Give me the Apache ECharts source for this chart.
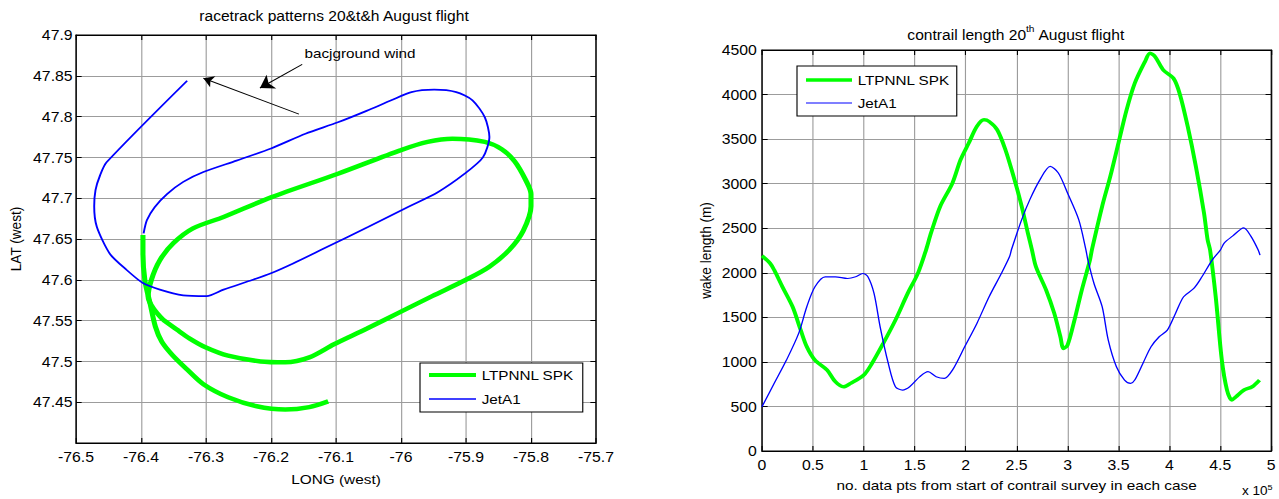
<!DOCTYPE html>
<html>
<head>
<meta charset="utf-8">
<script src="https://cdn.jsdelivr.net/npm/echarts@6/dist/echarts.min.js"></script>
<style>
  html, body { margin: 0; padding: 0; background: #fff; overflow: hidden; }
  #page { width: 1279px; height: 499px; overflow: hidden; }
  /* the figure is laid out on a narrower canvas and stretched horizontally */
  #chart { width: 1132px; height: 499px; transform: scaleX(1.12986); transform-origin: 0 0; }
</style>
</head>
<body>
<div id="page"><div id="chart"></div></div>
<script>
// ---------- racetrack patterns (LONG / LAT) ----------
// LTPNNL SPK: closed racetrack loop
const spkLoopLong = [-76.366, -76.345, -76.325, -76.300, -76.266, -76.216, -76.178, -76.141, -76.103, -76.053,
  -76.000, -75.952, -75.900, -75.864, -75.833, -75.812, -75.800, -75.800, -75.808, -75.825,
  -75.845, -75.871, -75.921, -75.959, -76.000, -76.097, -76.200, -76.273, -76.320, -76.350,
  -76.371, -76.384, -76.389, -76.381, -76.366];
const spkLoopLat = [47.551, 47.539, 47.528, 47.517, 47.507, 47.500, 47.499, 47.505, 47.521, 47.540,
  47.561, 47.580, 47.600, 47.616, 47.637, 47.660, 47.690, 47.705, 47.722, 47.745,
  47.760, 47.769, 47.773, 47.769, 47.759, 47.730, 47.701, 47.677, 47.663, 47.645,
  47.624, 47.600, 47.579, 47.565, 47.551];
// LTPNNL SPK: exit leg heading south-east
const spkTailLong = [-76.397, -76.397, -76.394, -76.386, -76.378, -76.368, -76.352, -76.329, -76.304, -76.266,
  -76.222, -76.178, -76.141, -76.112];
const spkTailLat = [47.655, 47.632, 47.599, 47.571, 47.543, 47.524, 47.508, 47.490, 47.472, 47.456,
  47.445, 47.441, 47.444, 47.451];
// JetA1 track
const jetLong = [-76.329, -76.453, -76.463, -76.470, -76.472, -76.468, -76.448, -76.422, -76.397, -76.371,
  -76.335, -76.299, -76.273, -76.228, -76.200, -76.166, -76.122, -76.050, -75.990, -75.944,
  -75.902, -75.874, -75.864, -75.871, -75.890, -75.915, -75.949, -75.984, -76.015, -76.053,
  -76.097, -76.147, -76.200, -76.253, -76.304, -76.335, -76.360, -76.379, -76.391, -76.396];
const jetLat = [47.844, 47.744, 47.728, 47.710, 47.690, 47.665, 47.632, 47.612, 47.596, 47.588,
  47.581, 47.580, 47.588, 47.600, 47.608, 47.620, 47.637, 47.665, 47.689, 47.707,
  47.730, 47.750, 47.775, 47.799, 47.820, 47.830, 47.833, 47.830, 47.820, 47.807,
  47.793, 47.779, 47.761, 47.746, 47.732, 47.720, 47.705, 47.689, 47.673, 47.657];

// wind annotation, in LONG / LAT
const windText = 'bacjground wind';
const windTextAt = [-76.063, 47.877];
const windArrowFrom = [[-76.157, 47.803], [-76.152, 47.864]];
const windArrowTo = [[-76.304, 47.847], [-76.217, 47.835]];
const windArrowHead = [9, 12];

// ---------- contrail length (data points in units of 1e5, metres) ----------
const spkPts = [0, 0.08, 0.12, 0.20, 0.30, 0.38, 0.44, 0.52, 0.64, 0.72,
  0.80, 0.87, 1.00, 1.08, 1.19, 1.31, 1.43, 1.53, 1.61, 1.66,
  1.75, 1.87, 1.95, 2.03, 2.11, 2.18, 2.23, 2.31, 2.39, 2.47,
  2.55, 2.61, 2.65, 2.69, 2.79, 2.87, 2.93, 2.96, 3.00, 3.06,
  3.14, 3.22, 3.24, 3.34, 3.42, 3.50, 3.58, 3.66, 3.76, 3.81,
  3.86, 3.94, 4.04, 4.10, 4.18, 4.26, 4.34, 4.375, 4.40, 4.455,
  4.515, 4.566, 4.614, 4.654, 4.733, 4.813, 4.885];
const spkLen = [2190, 2105, 2030, 1843, 1619, 1357, 1170, 1020, 908, 778,
  721, 759, 852, 983, 1207, 1469, 1768, 1992, 2254, 2448,
  2746, 3007, 3269, 3455, 3642, 3716, 3698, 3604, 3381, 3082,
  2746, 2448, 2261, 2067, 1806, 1544, 1282, 1151, 1189, 1432,
  1806, 2142, 2261, 2746, 3082, 3455, 3828, 4127, 4369, 4463,
  4425, 4276, 4183, 4015, 3642, 3194, 2672, 2373, 2254, 1731,
  1021, 684, 572, 609, 684, 721, 796];
const jetPts = [0, 0.12, 0.24, 0.36, 0.44, 0.52, 0.62, 0.72, 0.84, 0.92,
  0.99, 1.04, 1.10, 1.16, 1.24, 1.31, 1.38, 1.45, 1.55, 1.63,
  1.71, 1.79, 1.87, 1.99, 2.11, 2.23, 2.35, 2.43, 2.45, 2.55,
  2.63, 2.73, 2.83, 2.91, 3.00, 3.11, 3.18, 3.20, 3.26, 3.34,
  3.40, 3.48, 3.56, 3.62, 3.66, 3.74, 3.82, 3.90, 3.98, 4.06,
  4.14, 4.24, 4.32, 4.42, 4.50, 4.54, 4.62, 4.73, 4.80, 4.87,
  4.89];
const jetLen = [497, 759, 1020, 1320, 1619, 1843, 1955, 1955, 1936, 1955,
  1992, 1955, 1768, 1394, 983, 721, 684, 721, 834, 890,
  834, 815, 908, 1170, 1432, 1731, 1992, 2179, 2261, 2597,
  2821, 3045, 3194, 3120, 2896, 2597, 2261, 2142, 1880, 1619,
  1245, 946, 796, 759, 796, 983, 1170, 1282, 1357, 1544,
  1731, 1824, 1955, 2142, 2254, 2336, 2411, 2504, 2411, 2261,
  2198];

const seriesNames = ['LTPNNL SPK', 'JetA1'];
const seriesColors = ['#00ff00', '#0000ff'];

// ---------- helpers ----------
const SX = 1279 / 1132;          // horizontal stretch applied to #chart
const hx = v => v / SX;          // page x (px) -> chart x (px)
const zip = (a, b) => a.map((v, i) => [v, b[i]]);
const FONT = '"Liberation Sans", Arial, Helvetica, sans-serif';

const axisLineBlack = { show: true, onZero: false, lineStyle: { color: '#000', width: 1 } };
const tickInside = { show: true, inside: true, length: 5, lineStyle: { color: '#000', width: 1 } };
const gridLines = { show: true, lineStyle: { color: '#9c9c9c', width: 1, type: 'solid' } };
const nameFont = { color: '#000', fontSize: 13.6, fontFamily: FONT };
const tickFont = { color: '#000', fontSize: 14, fontFamily: FONT };
const titleSize = 13.8;

function mainAxis(gridIndex, position, range, extra) {
  return Object.assign({
    gridIndex, position, type: 'value',
    min: range[0], max: range[1], interval: range[2],
    axisLine: axisLineBlack, axisTick: tickInside, splitLine: gridLines,
    nameLocation: 'middle', nameTextStyle: nameFont
  }, extra);
}
function mirrorAxis(gridIndex, position, range) {
  return {
    gridIndex, position, type: 'value',
    min: range[0], max: range[1], interval: range[2],
    axisLine: axisLineBlack, axisTick: tickInside,
    axisLabel: { show: false }, splitLine: { show: false }
  };
}

const longRange = [-76.5, -75.7, 0.1];
const latRange = [47.4, 47.9, 0.05];
const ptsRange = [0, 5, 0.5];
const lenRange = [0, 4500, 500];

// legend keys: a plain horizontal bar of the line's thickness
const barIcon = h => 'path://M0 0H100V' + h + 'H0Z';

function legendBox(left, top, padding, itemWidth, itemGap, barHeights) {
  return {
    left: hx(left), top, orient: 'vertical', padding,
    itemWidth: hx(itemWidth), itemHeight: 14, itemGap,
    symbolKeepAspect: true,
    backgroundColor: '#fff', borderColor: '#000', borderWidth: 1, borderRadius: 0,
    selectedMode: false,
    textStyle: { color: '#000', fontSize: 13.5, fontFamily: FONT },
    data: seriesNames.map((n, i) => ({
      name: n, icon: barIcon(barHeights[i]),
      itemStyle: { color: seriesColors[i], borderWidth: 0 }
    }))
  };
}

function lineSeries(name, colorIdx, xi, yi, data, width, smooth) {
  return {
    name, type: 'line', xAxisIndex: xi, yAxisIndex: yi, data,
    symbol: 'none', showSymbol: false, smooth,
    lineStyle: { color: seriesColors[colorIdx], width },
    itemStyle: { color: seriesColors[colorIdx] },
    emphasis: { disabled: true }, silent: true
  };
}

const chart = echarts.init(document.getElementById('chart'), null, { renderer: 'svg' });

const jetTrack = lineSeries(seriesNames[1], 1, 0, 0, zip(jetLong, jetLat), 1.7, 0.25);
jetTrack.markLine = {
  silent: true, animation: false,
  symbol: ['none', 'arrow'],
  lineStyle: { color: '#000', width: 1, type: 'solid' },
  label: { show: false },
  emphasis: { disabled: true },
  data: windArrowFrom.map((p, i) => [
    { coord: p, symbol: 'none' },
    { coord: windArrowTo[i], symbol: 'arrow', symbolSize: windArrowHead[i] }
  ])
};

chart.setOption({
  animation: false,
  backgroundColor: '#fff',
  title: [
    {
      text: 'racetrack patterns 20&t&h August flight',
      left: hx(334), top: 9, textAlign: 'center', padding: 0,
      textStyle: { fontSize: titleSize, fontWeight: 'normal', color: '#000', fontFamily: FONT }
    },
    {
      text: '{n|contrail length 20}{s|th}{n| August flight}',
      left: hx(1016), top: 24, textAlign: 'center', padding: 0,
      textStyle: {
        fontSize: titleSize, fontWeight: 'normal', color: '#000', fontFamily: FONT,
        rich: {
          n: { fontSize: titleSize, color: '#000', fontFamily: FONT, lineHeight: 18, verticalAlign: 'bottom' },
          s: { fontSize: 9, color: '#000', fontFamily: FONT, verticalAlign: 'top' }
        }
      }
    }
  ],
  grid: [
    { left: hx(76), top: 35, width: hx(520), height: 408, show: true, borderColor: '#000', borderWidth: 1, backgroundColor: 'transparent' },
    { left: hx(762), top: 50, width: hx(512), height: 401, show: true, borderColor: '#000', borderWidth: 1, backgroundColor: 'transparent' }
  ],
  xAxis: [
    mainAxis(0, 'bottom', longRange, {
      name: 'LONG (west)', nameGap: 29,
      axisLabel: Object.assign({ margin: 7 }, tickFont)
    }),
    mirrorAxis(0, 'top', longRange),
    mainAxis(1, 'bottom', ptsRange, {
      name: 'no. data pts from start of contrail survey in each case', nameGap: 27,
      axisLabel: Object.assign({ margin: 7 }, tickFont)
    }),
    mirrorAxis(1, 'top', ptsRange)
  ],
  yAxis: [
    mainAxis(0, 'left', latRange, {
      name: 'LAT (west)', nameGap: 46,
      axisLabel: Object.assign({ margin: 3, showMinLabel: false }, tickFont)
    }),
    mirrorAxis(0, 'right', latRange),
    mainAxis(1, 'left', lenRange, {
      name: 'wake length (m)', nameGap: 43,
      axisLabel: Object.assign({ margin: 4.5, formatter: v => String(v) }, tickFont)
    }),
    mirrorAxis(1, 'right', lenRange)
  ],
  legend: [
    legendBox(420, 363, [5, hx(9), 6, hx(9)], 47, 10, [10, 4]),
    legendBox(797, 66, [7, hx(7), 6, hx(9)], 46, 9, [8, 3])
  ],
  series: [
    lineSeries(seriesNames[0], 0, 0, 0, zip(spkLoopLong, spkLoopLat), 4.5, 0.3),
    lineSeries(seriesNames[0], 0, 0, 0, zip(spkTailLong, spkTailLat), 4.5, 0.3),
    jetTrack,
    lineSeries(seriesNames[0], 0, 2, 2, zip(spkPts, spkLen), 3.5, 0.3),
    lineSeries(seriesNames[1], 1, 2, 2, zip(jetPts, jetLen), 1.2, 0.3)
  ]
});

// annotation texts placed through the axes
const windPx = chart.convertToPixel({ xAxisIndex: 0, yAxisIndex: 0 }, windTextAt);
chart.setOption({
  graphic: [
    {
      type: 'text', x: windPx[0], y: windPx[1], silent: true,
      style: { text: windText, fill: '#000', fontSize: 13.5, fontFamily: FONT, align: 'center', verticalAlign: 'middle' }
    },
    {
      type: 'text', x: hx(1242), y: 483, silent: true,
      style: {
        text: '{n|x 10}{s|5}', fill: '#000', fontSize: 12, fontFamily: FONT,
        rich: {
          n: { fontSize: 12, fill: '#000', fontFamily: FONT, lineHeight: 14, verticalAlign: 'bottom' },
          s: { fontSize: 8, fill: '#000', fontFamily: FONT, verticalAlign: 'top' }
        }
      }
    }
  ]
});
</script>
</body>
</html>
